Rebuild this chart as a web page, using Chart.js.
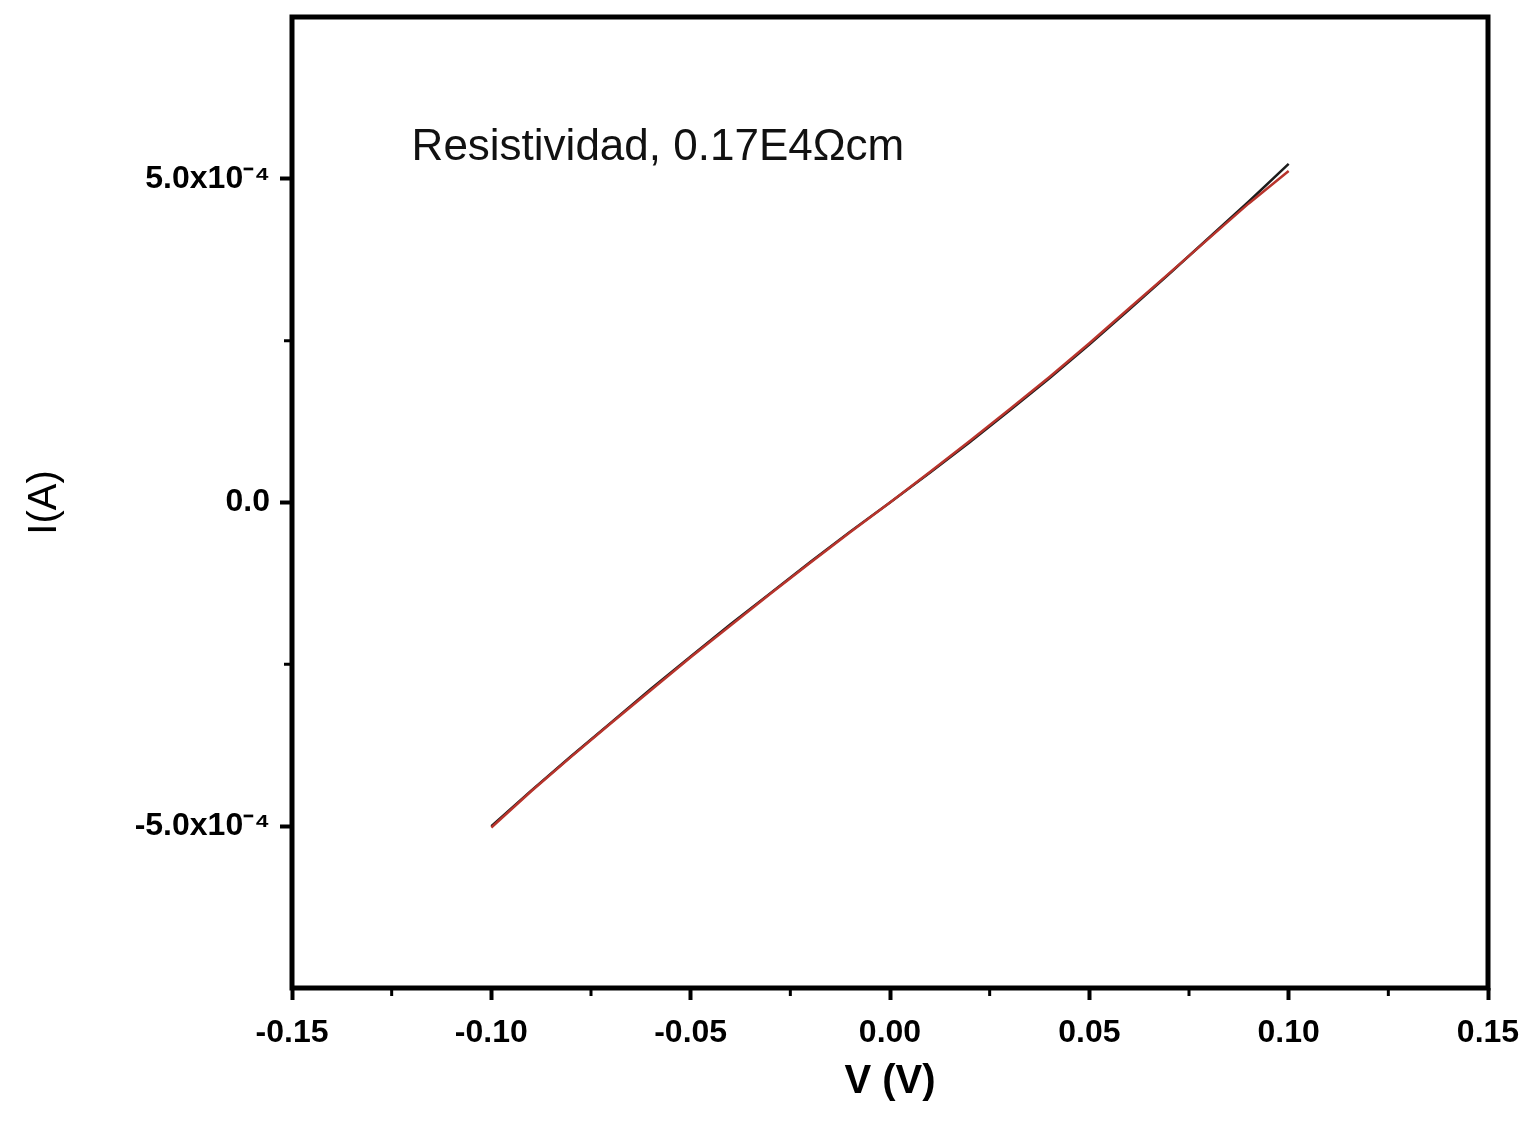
<!DOCTYPE html>
<html>
<head>
<meta charset="utf-8">
<script src="https://cdn.jsdelivr.net/npm/chart.js@4/dist/chart.umd.min.js"></script>
<style>
  html, body { margin: 0; padding: 0; background: #fff; }
  #wrap { width: 1524px; height: 1134px; position: relative; }
</style>
</head>
<body>
<div id="wrap"><canvas id="c" width="1524" height="1134"></canvas></div>
<script>
// ---- data ----
const voltage = [-0.10, -0.09, -0.08, -0.07, -0.06, -0.05, -0.04, -0.03, -0.02, -0.01,
                 0.00, 0.01, 0.02, 0.03, 0.04, 0.05, 0.06, 0.07, 0.08, 0.09, 0.10];
const currentBlack = [-5.00e-4, -4.45e-4, -3.92e-4, -3.40e-4, -2.88e-4, -2.38e-4, -1.88e-4, -1.40e-4, -0.92e-4, -0.45e-4,
                      0.00, 0.46e-4, 0.93e-4, 1.42e-4, 1.92e-4, 2.44e-4, 2.98e-4, 3.53e-4, 4.09e-4, 4.65e-4, 5.23e-4];
const currentRed = [-5.02e-4, -4.46e-4, -3.93e-4, -3.41e-4, -2.90e-4, -2.39e-4, -1.90e-4, -1.41e-4, -0.93e-4, -0.46e-4,
                    0.00, 0.47e-4, 0.95e-4, 1.44e-4, 1.94e-4, 2.46e-4, 3.00e-4, 3.54e-4, 4.08e-4, 4.62e-4, 5.12e-4];
const xTicks = [-0.15, -0.10, -0.05, 0.00, 0.05, 0.10, 0.15];
const xTickLabels = ['-0.15', '-0.10', '-0.05', '0.00', '0.05', '0.10', '0.15'];
const xMinorTicks = [-0.125, -0.075, -0.025, 0.025, 0.075, 0.125];
const yTicks = [-5.0e-4, 0.0, 5.0e-4];
const yTickLabels = ['-5.0x10\u207B\u2074', '0.0', '5.0x10\u207B\u2074'];
const yMinorTicks = [-2.5e-4, 2.5e-4];
const annotationText = 'Resistividad, 0.17E4\u03A9cm';

const FONT = '"Liberation Sans", Arial, sans-serif';

const framePlugin = {
  id: 'frame',
  afterDraw(chart) {
    const ctx = chart.ctx;
    const a = chart.chartArea;
    const xs = chart.scales.x, ys = chart.scales.y;
    ctx.save();
    // frame
    ctx.strokeStyle = '#000';
    ctx.lineWidth = 5;
    ctx.strokeRect(a.left, a.top, a.right - a.left, a.bottom - a.top);
    // minor ticks
    ctx.lineWidth = 3;
    ctx.beginPath();
    xMinorTicks.forEach(v => {
      const px = xs.getPixelForValue(v);
      ctx.moveTo(px, a.bottom);
      ctx.lineTo(px, a.bottom + 8);
    });
    yMinorTicks.forEach(v => {
      const py = ys.getPixelForValue(v);
      ctx.moveTo(a.left, py);
      ctx.lineTo(a.left - 8, py);
    });
    ctx.stroke();
    // annotation
    ctx.fillStyle = '#111';
    ctx.font = '44px ' + FONT;
    ctx.textAlign = 'left';
    ctx.textBaseline = 'middle';
    ctx.fillText(annotationText, xs.getPixelForValue(-0.12), ys.getPixelForValue(5.48e-4));
    ctx.restore();
  }
};

new Chart(document.getElementById('c'), {
  type: 'line',
  data: {
    datasets: [
      {
        label: 'red',
        data: voltage.map((v, i) => ({ x: v, y: currentRed[i] })),
        borderColor: '#b8342c',
        borderWidth: 2.5,
        pointRadius: 0,
        tension: 0,
        fill: false
      },
      {
        label: 'black',
        data: voltage.map((v, i) => ({ x: v, y: currentBlack[i] })),
        borderColor: '#1c1c1c',
        borderWidth: 2.5,
        pointRadius: 0,
        tension: 0,
        fill: false
      }
    ]
  },
  options: {
    responsive: false,
    animation: false,
    layout: { padding: { left: 0, top: 17, right: 36, bottom: 0 } },
    plugins: { legend: { display: false }, tooltip: { enabled: false } },
    scales: {
      x: {
        type: 'linear',
        min: -0.15,
        max: 0.15,
        afterBuildTicks: s => { s.ticks = xTicks.map(v => ({ value: v })); },
        afterFit: s => { s.height = 146; s.paddingLeft = 0; s.paddingRight = 0; },
        border: { display: false },
        grid: { drawOnChartArea: false, drawTicks: true, tickLength: 12, tickWidth: 4, tickColor: '#000' },
        ticks: {
          color: '#000',
          font: { family: FONT, size: 32, weight: 'bold' },
          padding: 14,
          maxRotation: 0,
          autoSkip: false,
          callback: (v) => {
            const i = xTicks.findIndex(t => Math.abs(t - v) < 1e-9);
            return i >= 0 ? xTickLabels[i] : '';
          }
        },
        title: {
          display: true,
          text: 'V (V)',
          color: '#000',
          font: { family: FONT, size: 40, weight: 'bold' },
          padding: { top: 0, bottom: 28 }
        }
      },
      y: {
        type: 'linear',
        min: -7.5e-4,
        max: 7.5e-4,
        afterBuildTicks: s => { s.ticks = yTicks.map(v => ({ value: v })); },
        afterFit: s => { s.width = 292; s.paddingTop = 0; s.paddingBottom = 0; },
        border: { display: false },
        grid: { drawOnChartArea: false, drawTicks: true, tickLength: 12, tickWidth: 4, tickColor: '#000' },
        ticks: {
          color: '#000',
          font: { family: FONT, size: 32, weight: 'bold' },
          padding: 10,
          autoSkip: false,
          callback: (v) => {
            const i = yTicks.findIndex(t => Math.abs(t - v) < 1e-12);
            return i >= 0 ? yTickLabels[i] : '';
          }
        },
        title: {
          display: true,
          text: 'I(A)',
          color: '#000',
          font: { family: FONT, size: 40, weight: 'normal' },
          padding: { top: 21, bottom: 0 }
        }
      }
    }
  },
  plugins: [framePlugin]
});
</script>
</body>
</html>
